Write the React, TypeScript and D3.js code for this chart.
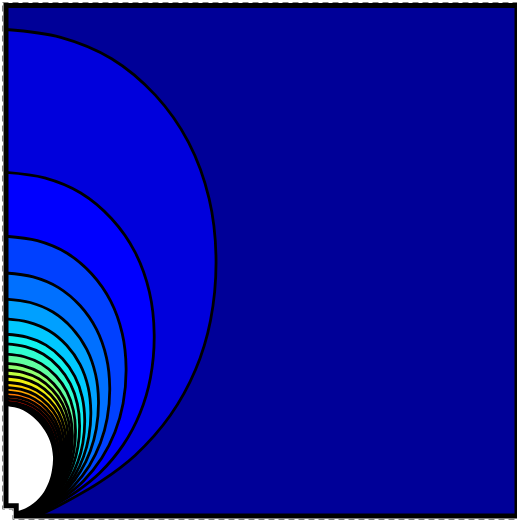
import { useEffect } from "react"
import * as d3 from "d3"

// contour levels, outermost first: where each one meets the left wall and how far right it reaches
const levelTop = [0.953, 0.673, 0.548, 0.476, 0.425, 0.386, 0.356, 0.337, 0.317, 0.299, 0.286, 0.274, 0.262, 0.252, 0.243, 0.235, 0.229, 0.223, 0.219]
const levelRight = [0.411, 0.29, 0.235, 0.203, 0.181, 0.166, 0.154, 0.144, 0.136, 0.13, 0.126, 0.122, 0.118, 0.114, 0.11, 0.107, 0.103, 0.099, 0.095]
const levelColor = ["#0000dc", "#0000ff", "#0040ff", "#0070ff", "#00a0ff", "#00c8ff", "#10f0f0", "#30ffd0", "#60ffa0", "#90ff70", "#c0ff40", "#f0f010", "#ffd000", "#ffa800", "#ff7800", "#ff4800", "#e81000", "#b80000", "#800000"]

// shared outline of a contour
const outlineU = [0, 0.259, 0.5, 0.707, 0.866, 0.966, 1, 0.972, 0.894, 0.763, 0.577, 0.389, 0.233, 0.08, 0]
const outlineV = [0, 0.016, 0.06, 0.135, 0.232, 0.348, 0.472, 0.598, 0.7, 0.793, 0.875, 0.93, 0.965, 0.994, 1]

// the blank hole around the source
const holeX = [0.004, 0.027, 0.053, 0.072, 0.086, 0.092, 0.09, 0.084, 0.07, 0.047, 0.023, 0.004]
const holeY = [0.215, 0.21, 0.194, 0.173, 0.147, 0.116, 0.09, 0.067, 0.041, 0.02, 0.01, 0.01]

const tailX = 0.043

// domain outline with the notch at the lower left corner
const wallX = [0, 1, 1, 0.02, 0.02, 0]
const wallY = [1, 1, 0, 0, 0.02, 0.02]

export default function App() {
  useEffect(() => {
    document.body.style.margin = "0"
  }, [])

  const width = 517
  const height = 521
  const x = d3.scaleLinear().domain([0, 1]).range([6, 517])
  const y = d3.scaleLinear().domain([0, 1]).range([516, 5.5])
  const xOuter = d3.scaleLinear().domain([0, 1]).range([2.5, 520])
  const yOuter = d3.scaleLinear().domain([0, 1]).range([519.5, 2.5])

  const line = d3
    .line<[number, number]>()
    .x((d) => x(d[0]))
    .y((d) => y(d[1]))
    .curve(d3.curveCatmullRom.alpha(0.5))

  const outline = (top: number, right: number, tail: number, bottom: number) =>
    outlineU.map((u, i): [number, number] => {
      const v = outlineV[i]
      return [u * right + (1 - u) * tail * v, top + (bottom - top) * v]
    })

  // close a contour back along the left wall
  const closed = (pts: [number, number][]) => `${line(pts)}L${x(0)},${y(pts[pts.length - 1][1])}Z`

  const wall =
    d3
      .line<number>()
      .x((_, i) => x(wallX[i]))
      .y((_, i) => y(wallY[i]))(wallX) + "Z"
  const wallOuter =
    d3
      .line<number>()
      .x((_, i) => xOuter(wallX[i]))
      .y((_, i) => yOuter(wallY[i]))(wallX) + "Z"

  const holePts = holeX.map((d, i): [number, number] => [d, holeY[i]])

  return (
    <svg width={width} height={height} style={{ display: "block" }}>
      <defs>
        <clipPath id="domain">
          <path d={wall} />
        </clipPath>
      </defs>
      <g clipPath="url(#domain)">
        <rect x={0} y={0} width={width} height={height} fill="#000098" />
        {levelTop.map((top, i) => (
          <path key={i} d={closed(outline(top, levelRight[i], tailX, 0))} fill={levelColor[i]} stroke="#000" strokeWidth={2.8} />
        ))}
        <path d={closed(holePts)} fill="#000" stroke="#000" strokeWidth={8} />
        {/* contours crowd together under the hole and merge to solid black */}
        <path d={line(holePts.slice(7)) ?? ""} fill="none" stroke="#000" strokeWidth={14} />
        <path d={closed(holePts)} fill="#fff" />
      </g>
      <path d={wall} fill="none" stroke="#000" strokeWidth={5} />
      <path d={wallOuter} fill="none" stroke="#808080" strokeWidth={1} strokeDasharray="6 4" />
    </svg>
  )
}
